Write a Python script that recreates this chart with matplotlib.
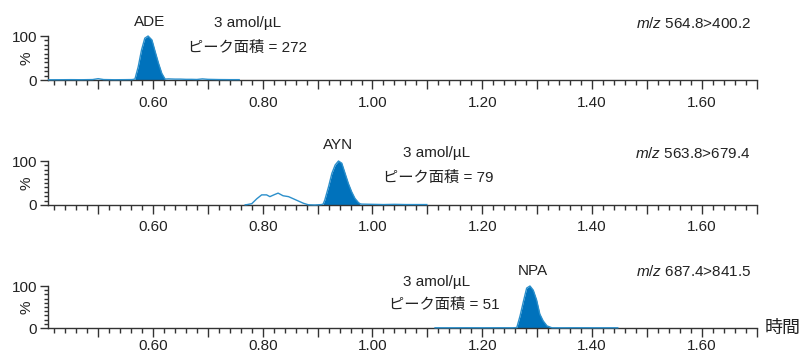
import numpy as np
import matplotlib
matplotlib.use("Agg")
import matplotlib.pyplot as plt
from matplotlib.ticker import MultipleLocator, FuncFormatter

plt.rcParams['font.family'] = ['Liberation Sans', 'Noto Sans CJK JP']
plt.rcParams['mathtext.fontset'] = 'custom'
plt.rcParams['mathtext.it'] = 'Liberation Sans:italic'
plt.rcParams['mathtext.rm'] = 'Liberation Sans'

# ---------------- data ----------------
ade_time = [0.410, 0.430, 0.450, 0.470, 0.490, 0.500, 0.510, 0.530, 0.550, 0.562,
            0.567, 0.573, 0.579, 0.585, 0.591, 0.598, 0.604, 0.610, 0.616, 0.622,
            0.628, 0.640, 0.650, 0.660, 0.670, 0.680, 0.690, 0.700, 0.720, 0.740, 0.757]
ade_int = [0.5, 0.6, 0.8, 0.6, 1.0, 3.0, 1.0, 0.6, 0.8, 1.0,
           2.0, 30, 68, 95, 100, 91, 64, 38, 15, 2.0,
           2.5, 2.0, 2.0, 1.5, 1.5, 1.2, 2.5, 1.5, 1.0, 0.8, 0.8]

ayn_time = [0.768, 0.771, 0.780, 0.789, 0.798, 0.807, 0.813, 0.822, 0.828, 0.837,
            0.847, 0.856, 0.865, 0.874, 0.883, 0.895, 0.907, 0.910, 0.913, 0.920,
            0.926, 0.932, 0.938, 0.944, 0.950, 0.956, 0.962, 0.968, 0.974, 0.977,
            0.980, 1.000, 1.020, 1.040, 1.060, 1.080, 1.099]
ayn_int = [0.5, 0.8, 3, 14, 23, 23, 19, 24, 27, 21,
           19, 14, 9, 4, 0.5, 0.0, 1.0, 2.0, 11, 42,
           72, 91, 100, 95, 72, 49, 30, 15, 6, 3,
           2.0, 1.5, 1.0, 1.5, 1.0, 1.0, 1.0]

npa_time = [1.114, 1.140, 1.170, 1.200, 1.230, 1.255, 1.263, 1.269, 1.275, 1.281,
            1.287, 1.293, 1.299, 1.305, 1.311, 1.318, 1.327, 1.340, 1.370, 1.400,
            1.430, 1.447]
npa_int = [0.5, 0.5, 0.6, 0.5, 0.6, 0.5, 1.0, 29, 63, 95,
           100, 90, 67, 33, 17, 5, 0.5, 0.5, 0.6, 0.5,
           0.5, 0.5]

peak_windows = [(0.567, 0.622), (0.910, 0.977), (1.263, 1.327)]
compounds = ["ADE", "AYN", "NPA"]
areas = [272, 79, 51]
transitions = ["564.8>400.2", "563.8>679.4", "687.4>841.5"]
concentration = "3 amol/µL"

traces = [(ade_time, ade_int), (ayn_time, ayn_int), (npa_time, npa_int)]

# ---------------- styling ----------------
W, H = 803, 356
fig = plt.figure(figsize=(W / 100, H / 100), dpi=100)

line_color = "#2b8fcb"
fill_color = "#0072bc"
axis_color = "#333333"

def fx(px):
    return px / W

def fy(py):
    return 1 - py / H

# panel geometry in pixels: (y of 100 %, y of 0 %)
panels_px = [(36, 80), (161, 205), (286, 328)]
label_pads = [5, 4.5, 1.5]
x_left_px, x_right_px = 48, 757
xlim = (0.4086, 1.7008)

label_fmt = FuncFormatter(lambda v, p: f"{v:.2f}" if (round(v * 10) % 2 == 0 and v > 0.5) else "")

axes = []
for i, (top, bot) in enumerate(panels_px):
    ax = fig.add_axes([fx(x_left_px), fy(bot), fx(x_right_px - x_left_px), (bot - top) / H])
    t, y = np.array(traces[i][0]), np.array(traces[i][1])
    ax.plot(t, y, color=line_color, lw=1.0, clip_on=False, zorder=3)
    lo, hi = peak_windows[i]
    m = (t >= lo) & (t <= hi)
    ax.fill_between(t[m], 0, y[m], color=fill_color, lw=0, clip_on=False, zorder=2)
    ax.set_xlim(*xlim)
    ax.set_ylim(0, 100)
    for s in ("top", "right"):
        ax.spines[s].set_visible(False)
    ax.spines["left"].set_color(axis_color)
    ax.spines["bottom"].set_color(axis_color)
    ax.spines["left"].set_linewidth(1.0)
    ax.spines["bottom"].set_linewidth(1.0)
    ax.xaxis.set_major_locator(MultipleLocator(0.1))
    ax.xaxis.set_minor_locator(MultipleLocator(0.02))
    ax.xaxis.set_major_formatter(label_fmt)
    ax.yaxis.set_major_locator(MultipleLocator(100))
    ax.yaxis.set_minor_locator(MultipleLocator(10))
    ax.tick_params(axis="x", which="major", direction="out", length=6.5, width=1.0,
                   color=axis_color, labelsize=11, pad=label_pads[i], labelcolor="#222222")
    ax.tick_params(axis="x", which="minor", direction="out", length=3.5, width=1.0,
                   color=axis_color)
    ax.tick_params(axis="y", which="major", direction="out", length=6, width=1.0,
                   color=axis_color, labelsize=11, pad=2, labelcolor="#222222")
    ax.tick_params(axis="y", which="minor", direction="out", length=3, width=1.0,
                   color=axis_color)
    ax.set_ylabel("%", fontsize=11, color="#222222")
    ax.yaxis.set_label_coords(-0.021, 0.5)
    ax.patch.set_alpha(0)
    axes.append(ax)

txt_kw = dict(fontsize=11, color="#222222", va="center")

# panel 1
fig.text(fx(150), fy(22), compounds[0], ha="center", **txt_kw)
fig.text(fx(248), fy(23), concentration, ha="center", **txt_kw)
fig.text(fx(248), fy(48), f"ピーク面積 = {areas[0]}", ha="center", **txt_kw)
fig.text(fx(751), fy(23), r"$\it{m/z}$ " + transitions[0], ha="right", **txt_kw)

# panel 2
fig.text(fx(338), fy(145), compounds[1], ha="center", **txt_kw)
fig.text(fx(437), fy(153), concentration, ha="center", **txt_kw)
fig.text(fx(438), fy(178), f"ピーク面積 = {areas[1]}", ha="center", **txt_kw)
fig.text(fx(751), fy(153), r"$\it{m/z}$ " + transitions[1], ha="right", **txt_kw)

# panel 3
fig.text(fx(533), fy(271), compounds[2], ha="center", **txt_kw)
fig.text(fx(437), fy(282), concentration, ha="center", **txt_kw)
fig.text(fx(444), fy(305), f"ピーク面積 = {areas[2]}", ha="center", **txt_kw)
fig.text(fx(751), fy(271), r"$\it{m/z}$ " + transitions[2], ha="right", **txt_kw)
fig.text(fx(783), fy(328), "時間", ha="center", fontsize=13, color="#222222", va="center")

fig.savefig("out.png", dpi=100, facecolor="white")
